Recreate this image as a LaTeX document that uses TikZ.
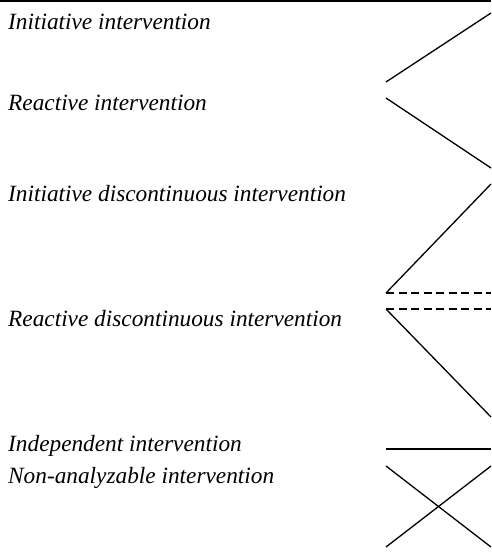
\documentclass[tikz,border=0pt]{standalone}
\usepackage{fontspec}
\setmainfont{Liberation Serif}
\begin{document}
\begin{tikzpicture}[x=1pt,y=-1pt,
  lbl/.style={anchor=base west,inner sep=0pt,font=\fontsize{23.3}{26}\selectfont\itshape},
  ln/.style={line width=1.3pt,line cap=butt},
  dln/.style={line width=1.3pt,dash pattern=on 8pt off 4.5pt}]
\useasboundingbox (0,0) rectangle (491,557);
\draw[line width=2.2pt] (0,1.1) -- (491,1.1);
% labels
\node[lbl] (t1) at (8,29.5) {Initiative intervention};
\node[lbl] (t2) at (8,110.5) {Reactive intervention};
\node[lbl] (t3) at (8,201) {Initiative discontinuous intervention};
\node[lbl] (t4) at (8,326) {Reactive discontinuous intervention};
\node[lbl] (t5) at (8,451) {Independent intervention};
\node[lbl] (t6) at (8,483) {Non-analyzable intervention};
% figures
\coordinate (a1) at (386,82); \coordinate (b1) at (491,13);
\draw[ln] (a1) -- (b1);
\coordinate (a2) at (386,98); \coordinate (b2) at (491,168);
\draw[ln] (a2) -- (b2);
\coordinate (a3) at (386,293); \coordinate (b3) at (491,184);
\draw[ln] (a3) -- (b3);
\coordinate (d1) at (491,293);
\draw[dln] (a3) -- (d1);
\coordinate (a4) at (386,309); \coordinate (b4) at (491,417); \coordinate (d2) at (491,309);
\draw[dln] (a4) -- (d2);
\draw[ln] (a4) -- (b4);
\coordinate (a5) at (386,449); \coordinate (b5) at (491,449);
\draw[ln] (a5) -- (b5);
\coordinate (x1) at (386,466); \coordinate (x2) at (491,547);
\coordinate (x3) at (386,547); \coordinate (x4) at (491,466);
\draw[ln] (x1) -- (x2);
\draw[ln] (x3) -- (x4);
\end{tikzpicture}
\end{document}
